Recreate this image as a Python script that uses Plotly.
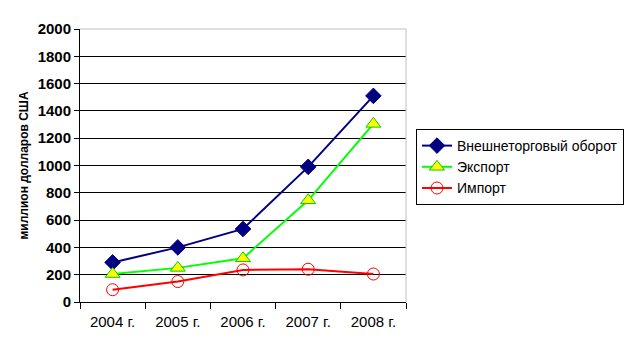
import plotly.graph_objects as go

years = ["2004 г.", "2005 г.", "2006 г.", "2007 г.", "2008 г."]
turnover = [290, 400, 535, 990, 1510]
export = [205, 250, 320, 745, 1305]
imports = [90, 150, 235, 240, 205]
yticks = [0, 200, 400, 600, 800, 1000, 1200, 1400, 1600, 1800, 2000]

FONT = "Liberation Sans Narrow, Arial Narrow, Liberation Sans, Arial"

fig = go.Figure()
fig.add_trace(go.Scatter(
    x=years, y=turnover, name="Внешнеторговый оборот", mode="lines+markers",
    line=dict(color="#000080", width=2),
    marker=dict(symbol="diamond", size=12, color="#000080", line=dict(color="#000080", width=1))))
fig.add_trace(go.Scatter(
    x=years, y=export, name="Экспорт", mode="lines+markers",
    line=dict(color="#00ff00", width=2),
    marker=dict(symbol="triangle-up", size=13, color="#ffff00", line=dict(color="#00cc00", width=1))))
fig.add_trace(go.Scatter(
    x=years, y=imports, name="Импорт", mode="lines+markers",
    line=dict(color="#ff0000", width=2),
    marker=dict(symbol="circle-open", size=12, color="#ff0000", line=dict(color="#ff0000", width=1))))

fig.update_layout(
    width=625, height=354,
    margin=dict(l=80, r=219, t=29, b=52, autoexpand=False),
    paper_bgcolor="white", plot_bgcolor="white",
    font=dict(family=FONT, color="black", size=14),
    showlegend=True,
    legend=dict(xref="container", yref="container", x=416/625, y=1-129/354,
                xanchor="left", yanchor="top",
                bordercolor="black", borderwidth=1, bgcolor="white",
                font=dict(family=FONT, size=14), tracegroupgap=2,
                itemwidth=30),
    xaxis=dict(
        type="category", showgrid=False, showline=True, linecolor="black", linewidth=1,
        ticks="outside", tickson="boundaries", ticklen=6, tickcolor="black",
        tickfont=dict(family=FONT, size=15), mirror=False, zeroline=False,
        ticklabelstandoff=6, range=[-0.5, 4.5], automargin=False),
    yaxis=dict(
        range=[0, 2000], tickvals=yticks, showgrid=True, gridcolor="black", gridwidth=1,
        showline=True, linecolor="black", linewidth=1, ticks="outside", ticklen=5,
        tickcolor="black", zeroline=False, automargin=False,
        tickfont=dict(family=FONT, size=15, weight="bold"),
        title=dict(text="миллион долларов США", font=dict(family=FONT, size=12, weight="bold"),
                   standoff=6)),
)
# grey plot-area border on top and right
fig.add_shape(type="line", xref="paper", yref="paper", x0=0, x1=1, y0=1, y1=1,
              line=dict(color="#c0c0c0", width=1))
fig.add_shape(type="line", xref="paper", yref="paper", x0=1, x1=1, y0=0, y1=1,
              line=dict(color="#c0c0c0", width=1))

fig.write_html("out.html")
